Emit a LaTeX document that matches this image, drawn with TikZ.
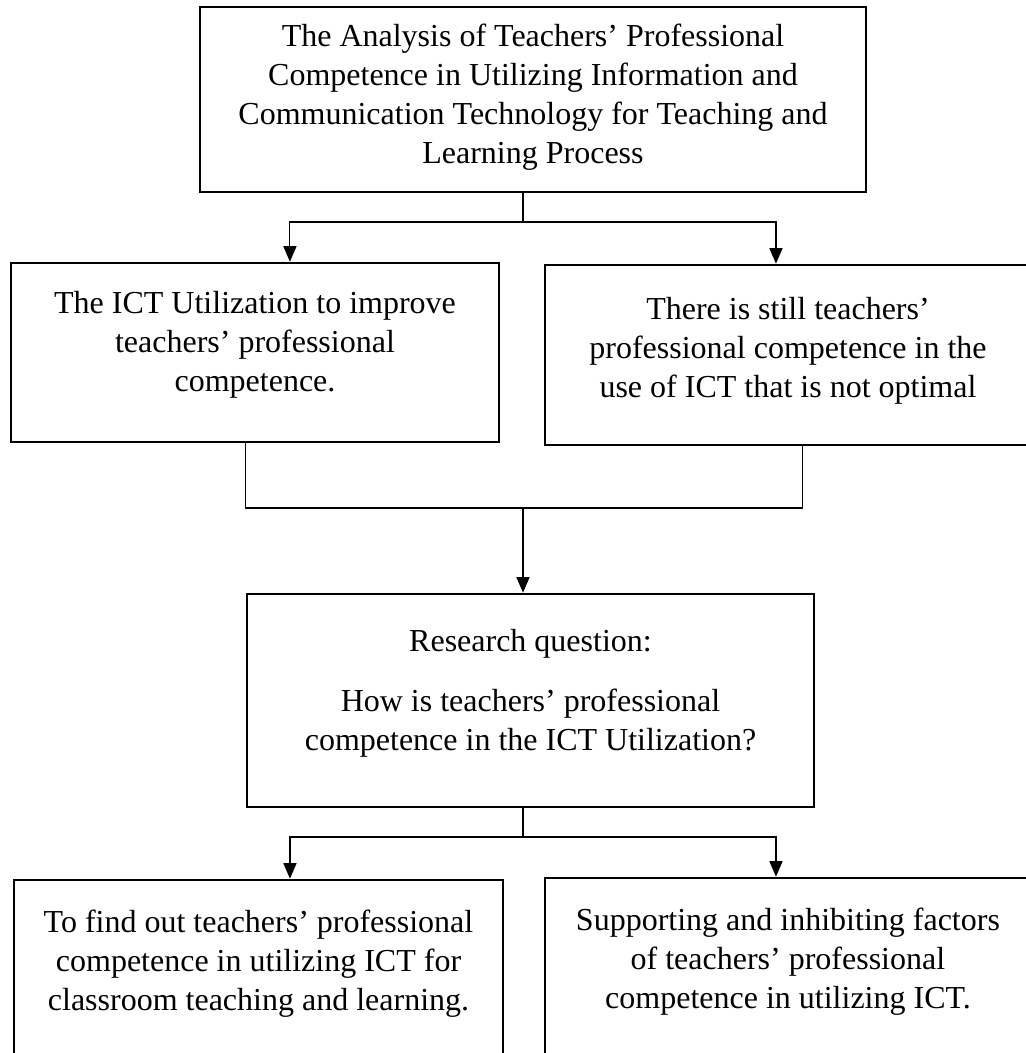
\documentclass[tikz,border=0pt]{standalone}
\usepackage{fontspec}
\setmainfont{Liberation Serif}
\usepackage{tikz}
\usetikzlibrary{arrows.meta,positioning,calc}

\begin{document}
\begin{tikzpicture}[x=0.375pt,y=-0.375pt,
        box/.style={rectangle,draw,line width=1pt},
        boxtext/.style={align=center,inner sep=0pt,font=\fontsize{12}{14.6}\selectfont},
        link/.style={line width=0.4pt},
        arrow/.style={link,-{Triangle[length=5.8pt,width=4.9pt]}}]
        \useasboundingbox (0,0) rectangle (1026,1053);
        \clip (0,0) rectangle (1026,1053);

        % Title
        \node[box,minimum width=249.75pt,minimum height=69.4pt] (title) at (533,99.5) {};
        \node[boxtext] (titletxt) at ([yshift=0.9pt]title.center) {
            The Analysis of Teachers’ Professional\\
            Competence in Utilizing Information and\\
            Communication Technology for Teaching and\\
            Learning Process};

        % Background
        \node[box,minimum width=183pt,minimum height=67.1pt] (ictuse) at (255,352.5) {};
        \node[boxtext] (ictusetxt) at ([yshift=2.8pt]ictuse.center) {
            The ICT Utilization to improve\\
            teachers’ professional\\
            competence.};

        \node[box,minimum width=185.6pt,minimum height=67.5pt] (notopt) at (792.5,355) {};
        \node[boxtext] (notopttxt) at ([xshift=-1.7pt,yshift=1.7pt]notopt.center) {
            There is still teachers’\\
            professional competence in the\\
            use of ICT that is not optimal};

        % Research question
        \node[box,minimum width=212.6pt,minimum height=79.9pt] (question) at (530.5,700.5) {};
        \node[boxtext] (questiontxt) at ([yshift=2.65pt]question.center) {
            Research question:\\[8pt]
            How is teachers’ professional\\
            competence in the ICT Utilization?};

        % Aims
        \node[box,minimum width=183.4pt,minimum height=66.75pt] (findout) at (258.5,969) {};
        \node[boxtext] (findouttxt) at ([yshift=2.1pt]findout.center) {
            To find out teachers’ professional\\
            competence in utilizing ICT for\\
            classroom teaching and learning.};

        \node[box,minimum width=185.6pt,minimum height=66.75pt] (factors) at (792.5,967) {};
        \node[boxtext] (factorstxt) at ([xshift=-1.7pt,yshift=1.95pt]factors.center) {
            Supporting and inhibiting factors\\
            of teachers’ professional\\
            competence in utilizing ICT.};

        % Connectors
        \coordinate (fork1) at (523,222);
        \coordinate (merge) at (523,508);
        \coordinate (fork2) at (523,837);

        \draw[link] (fork1 |- title.south) -- (fork1);
        \draw[arrow] (fork1) -| ([xshift=13.1pt]ictuse.north);
        \draw[arrow] (fork1) -| ([xshift=-6.2pt]notopt.north);

        \draw[link] ([xshift=-3.4pt]ictuse.south) |- (merge) -| ([xshift=3.9pt]notopt.south);
        \draw[arrow] (merge) -- (merge |- question.north);

        \draw[link] (fork2 |- question.south) -- (fork2);
        \draw[arrow] (fork2) -| ([xshift=11.8pt]findout.north);
        \draw[arrow] (fork2) -| ([xshift=-6.2pt]factors.north);
    \end{tikzpicture}
\end{document}
